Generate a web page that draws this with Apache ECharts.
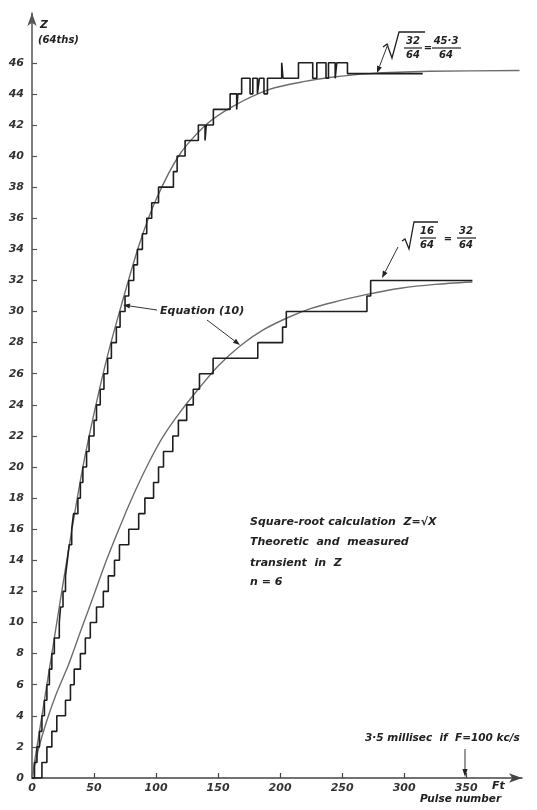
<!DOCTYPE html>
<html><head><meta charset="utf-8">
<script src="https://cdn.jsdelivr.net/npm/echarts/dist/echarts.min.js"></script>
<style>html,body{margin:0;padding:0;background:#fff}#c{width:537px;height:810px}</style>
</head><body><div id="c"></div>
<script>
// ---- data (pulse number t, Z in 64ths) ----
const xTicks = [0, 50, 100, 150, 200, 250, 300, 350];
const yTicks = [0,2,4,6,8,10,12,14,16,18,20,22,24,26,28,30,32,34,36,38,40,42,44,46];

// theoretic transient, Equation (10), final value 45.3/64
const upperTheoryT = [0, 4, 8, 16, 24, 32, 41, 51, 61, 72, 86, 100, 119, 140, 162, 192, 220, 240, 272, 320, 393];
const upperTheoryZ = [0, 2, 4, 8, 12, 15.9, 20, 23.8, 27.2, 30.4, 34.2, 37.2, 40.1, 42.0, 43.2, 44.3, 44.8, 45.05, 45.3, 45.45, 45.5];

// measured staircase, final value 45.3/64 (level starts at t)
const upperMeasT = [0,2,4,6,8,10,12,14,16,18,22,23,25,27,28.5,30,32,33.5,37,39,41,44,46,50,52,55,58,61,64,68,71,75,78,82,85,89,92.5,96.5,102,114,117,123.4,134.1,139.5,140.5,146.2,159.7,165,166,169,175.8,178,181.7,183.3,187,189.8,201.3,202.3,214.8,226.3,229.6,237,239,244.4,245.7,254.3,315];
const upperMeasZ = [0,1,2,3,4,5,6,7,8,9,10,11,12,13,14,15,16,17,18,19,20,21,22,23,24,25,26,27,28,29,30,31,32,33,34,35,36,37,38,39,40,41,42,41,42,43,44,43,44,45,44,45,44,45,44,45,46,45,46,45,46,45,46,45,46,45.3,45.3];

// theoretic transient, final value 32/64
const lowerTheoryT = [0, 5, 12, 20, 29, 39, 50, 60, 70, 80, 93, 106, 120, 135, 150, 168, 186, 206, 225, 243, 270, 297, 325, 355];
const lowerTheoryZ = [0, 1.8, 3.7, 5.5, 7.2, 9.4, 11.8, 14.0, 16.0, 17.9, 20.1, 22.0, 23.6, 25.1, 26.5, 27.8, 28.8, 29.6, 30.2, 30.6, 31.1, 31.5, 31.75, 31.9];

// measured staircase, final value 32/64
const lowerMeasT = [0,8,12,16,20,27,31,34,39,43,47,52,57.5,61.5,66.5,70.5,78,86,91,98,102,106,113.5,118,124.7,130,135,146,182,202,205,270,273,355];
const lowerMeasZ = [0,1,2,3,4,5,6,7,8,9,10,11,12,13,14,15,16,17,18,19,20,21,22,23,24,25,26,27,28,29,30,31,32,32];

const zip = (a, b) => a.map((v, i) => [v, b[i]]);

const chart = echarts.init(document.getElementById('c'), null, {renderer: 'canvas'});
const FONT = 'DejaVu Sans';
const INK = '#222';
const lblStyle = {fontFamily: FONT, fontStyle: 'italic', fontWeight: 'bold', fontSize: 11, color: '#333'};

function arrow(x1, y1, x2, y2, head) {
  head = head || 7;
  const a = Math.atan2(y2 - y1, x2 - x1);
  const w = 2.6;
  const bx = x2 - head * Math.cos(a), by = y2 - head * Math.sin(a);
  const px = -Math.sin(a) * w, py = Math.cos(a) * w;
  return [
    {type: 'line', shape: {x1, y1, x2: bx, y2: by}, style: {stroke: '#333', lineWidth: 1}},
    {type: 'polygon', shape: {points: [[x2, y2], [bx + px, by + py], [bx - px, by - py]]}, style: {fill: '#222'}}
  ];
}
function txt(x, y, s, size) {
  return {type: 'text', x, y, style: {text: s, fill: INK, font: 'italic bold ' + (size || 11) + 'px "' + FONT + '"', textVerticalAlign: 'middle'}};
}
function ctxt(x, y, s, size) {
  return {type: 'text', x, y, style: {text: s, fill: INK, font: 'italic bold ' + (size || 10) + 'px "' + FONT + '"', textAlign: 'center', textVerticalAlign: 'middle'}};
}
function ln(x1, y1, x2, y2, w) {
  return {type: 'line', shape: {x1, y1, x2, y2}, style: {stroke: '#222', lineWidth: w || 1.2}};
}
function poly(pts, w) {
  return {type: 'polyline', shape: {points: pts}, style: {stroke: '#222', lineWidth: w || 1.3, fill: null}};
}

const graphics = [].concat(
  // y axis title
  [txt(40, 25, 'Z', 11), txt(38, 40, '(64ths)', 10)],
  // upper formula
  [poly([[383, 47], [387, 44], [392, 58], [399, 32], [425, 32]]),
   ctxt(413, 41, '32'), ln(404, 48, 422, 48), ctxt(413, 55, '64'),
   ctxt(428, 48, '=', 10),
   ctxt(446, 41, '45·3'), ln(432, 48, 461, 48), ctxt(446, 55, '64')],
  arrow(388, 44, 377, 73),
  // lower formula
  [poly([[402, 241], [405, 239], [409, 249], [414, 222], [438, 222]]),
   ctxt(427, 231, '16'), ln(420, 238, 436, 238), ctxt(427, 245, '64'),
   ctxt(448, 239, '=', 10),
   ctxt(466, 231, '32'), ln(457, 238, 476, 238), ctxt(466, 245, '64')],
  arrow(398, 247, 382, 278),
  // Equation (10)
  [txt(160, 311, 'Equation (10)', 11)],
  arrow(157, 310, 123, 305),
  arrow(207, 320, 240, 345),
  // description
  [txt(250, 522, 'Square-root calculation  Z=√X', 11),
   txt(250, 542, 'Theoretic  and  measured', 11),
   txt(250, 563, 'transient  in  Z', 11),
   txt(250, 582, 'n = 6', 11)],
  // time note
  [txt(365, 738, '3·5 millisec  if  F=100 kc/s', 10.5)],
  arrow(465, 749, 465, 777, 8),
  // x axis titles
  [txt(492, 786, 'Ft', 11), txt(420, 799, 'Pulse number', 10.5)]
);

const option = {
  animation: false,
  backgroundColor: '#fff',
  grid: {left: 32, right: 15, top: 13, bottom: 32, containLabel: false},
  xAxis: {
    type: 'value', min: 0, max: 395,
    splitLine: {show: false},
    axisLine: {lineStyle: {color: '#444', width: 1.5}, symbol: ['none', 'arrow'], symbolSize: [7, 13]},
    axisTick: {inside: true, length: 5, lineStyle: {color: '#444', width: 1.2}, customValues: xTicks},
    axisLabel: Object.assign({margin: 5, customValues: xTicks}, lblStyle)
  },
  yAxis: {
    type: 'value', min: 0, max: 49.2,
    splitLine: {show: false},
    axisLine: {lineStyle: {color: '#555', width: 1.5}, symbol: ['none', 'arrow'], symbolSize: [7, 13]},
    axisTick: {inside: true, length: 5, lineStyle: {color: '#555', width: 1.2}, customValues: yTicks},
    axisLabel: Object.assign({margin: 8, customValues: yTicks}, lblStyle)
  },
  series: [
    {type: 'line', name: 'upperTheory', data: zip(upperTheoryT, upperTheoryZ), smooth: 0.25, showSymbol: false,
     lineStyle: {color: '#6d6d6d', width: 1.4}, z: 2},
    {type: 'line', name: 'lowerTheory', data: zip(lowerTheoryT, lowerTheoryZ), smooth: 0.25, showSymbol: false,
     lineStyle: {color: '#6d6d6d', width: 1.4}, z: 2},
    {type: 'line', name: 'upperMeas', data: zip(upperMeasT, upperMeasZ), step: 'end', showSymbol: false,
     lineStyle: {color: '#1e1e1e', width: 1.6}, z: 3},
    {type: 'line', name: 'lowerMeas', data: zip(lowerMeasT, lowerMeasZ), step: 'end', showSymbol: false,
     lineStyle: {color: '#1e1e1e', width: 1.6}, z: 3}
  ],
  graphic: graphics
};
chart.setOption(option);
</script>
</body></html>
